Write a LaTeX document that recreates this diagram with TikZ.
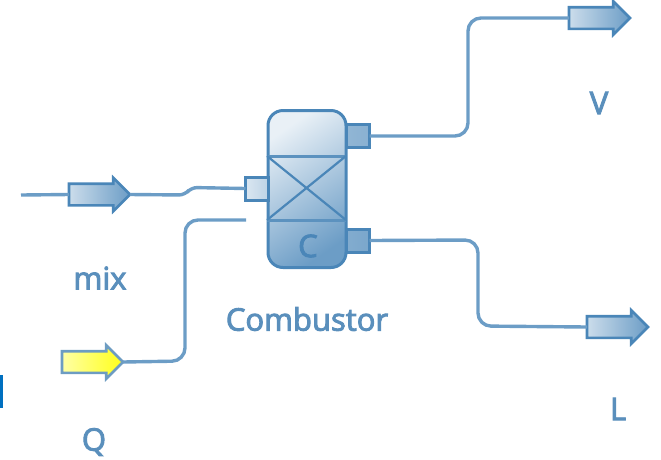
\documentclass[tikz,border=0pt]{standalone}
\usepackage{fontspec}
\setmainfont{Open Sans}[RawFeature={embolden=3.0}]
\usetikzlibrary{shapes.arrows}
\definecolor{edgeblue}{HTML}{4A86B8}
\definecolor{lineblue}{HTML}{6C9DC6}
\definecolor{labelblue}{HTML}{5A8FBC}
\definecolor{fragblue}{HTML}{0070C0}
\tikzset{
  x=1pt,y=-1pt,
  streamline/.style={draw=lineblue,line width=3.4pt,rounded corners=13pt},
  streamarrow/.style={single arrow,draw=edgeblue,line width=2.6pt,inner sep=0pt,outer sep=0pt,anchor=tail,
    minimum height=61pt,minimum width=32pt,single arrow head extend=6pt,single arrow head indent=0pt,
    left color=lineblue!35!white,right color=lineblue},
  heatarrow/.style={streamarrow,draw=lineblue!95!gray,left color=yellow!35!white,right color=yellow!90!white},
  portbox/.style={draw=edgeblue,line width=3pt,inner sep=0pt,outer sep=0pt,minimum width=23pt,minimum height=23pt},
  vesselbody/.style={draw=edgeblue,line width=3pt,inner sep=0pt,outer sep=0pt,minimum width=78pt,minimum height=157pt,
    rounded corners=15pt,left color=lineblue!15!white,right color=lineblue,shading angle=35},
  divider/.style={draw=edgeblue!90!white,line width=3pt},
  label/.style={font=\fontsize{31}{34}\selectfont,text=labelblue,inner sep=0pt},
}
\newcommand{\shaft}{\rule{0pt}{19pt}}
\begin{document}
\begin{tikzpicture}
\useasboundingbox (0,0) rectangle (661,459);
% vessel
\node[vesselbody] (vessel) at (307,189) {};
\node[portbox,left color=lineblue!25!white,right color=lineblue!45!white] (inport) at (257,188.5) {};
\node[portbox,left color=lineblue!75!white,right color=lineblue!80!white] (vaporport) at (358,136) {};
\node[portbox,left color=lineblue!85!white,right color=lineblue!90!white] (liquidport) at (358,240.5) {};
\coordinate (dtl) at (267,156);
\coordinate (dtr) at (346,156);
\coordinate (dbl) at (267,220);
\coordinate (dbr) at (346,220);
\draw[divider] (dtl) -- (dtr);
\draw[divider] (dbl) -- (dbr);
\draw[draw=edgeblue,line width=2.2pt] (dtl) -- (dbr);
\draw[draw=edgeblue,line width=2.2pt] (dtr) -- (dbl);
\node[font=\fontsize{31}{34}\selectfont,text=edgeblue,inner sep=0pt] (ctext) at (308,246) {C};
% stream arrows
\node[streamarrow] (mixarrow) at (69,194.5) {\shaft};
\node[streamarrow] (varrow) at (569,18) {\shaft};
\node[streamarrow] (larrow) at (587,327) {\shaft};
\node[heatarrow] (qarrow) at (62,362) {\shaft};
% free ends
\coordinate (mixstart) at (21,195);
\coordinate (qend) at (246,220);
% connectors
\draw[streamline] (mixstart) -- (mixarrow.tail);
\draw[streamline,rounded corners=6pt] (mixarrow.tip) -- (185,195) -- (191,187.5) -- (inport.west);
\draw[streamline] (qarrow.tip) -- (185,361) -- (185,220) -- (qend);
\draw[streamline] (vaporport.east) -- (468,136) -- (468,18) -- (varrow.tail);
\draw[streamline] (liquidport.east) -- (478,240) -- (478,326) -- (larrow.tail);
% labels
\node[label] (mixlabel) at (100,278) {mix};
\node[label] (combustorlabel) at (307,319) {Combustor};
\node[label] (vlabel) at (599,103) {V};
\node[label] (llabel) at (618,409) {L};
\node[label] (qlabel) at (94,442) {Q};
% clipped fragment at left edge
\fill[fill=fragblue] (0,375) rectangle (3,408);
\end{tikzpicture}
\end{document}
